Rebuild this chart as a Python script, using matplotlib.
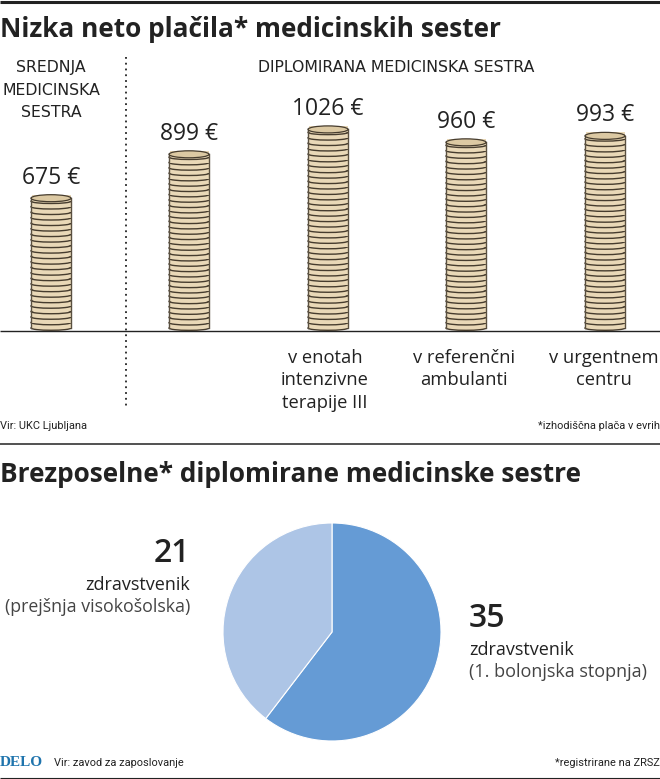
import matplotlib
matplotlib.use("Agg")
import matplotlib.pyplot as plt
from matplotlib.patches import Ellipse, Rectangle

BODY = ['Open Sans', 'DejaVu Sans']
NARROW = ['Roboto', 'DejaVu Sans']
plt.rcParams['font.family'] = BODY

W, H = 660, 779
INK = '#222222'
COIN = '#e9d8b7'
COIN_TOP = '#dcc9a3'
EDGE = '#463c2e'

salary_labels = ['675 €', '899 €', '1026 €', '960 €', '993 €']
salary_values = [675, 899, 1026, 960, 993]
category_lines = [['v enotah', 'intenzivne', 'terapije III'], ['v referenčni', 'ambulanti'], ['v urgentnem', 'centru']]
pie_counts = [35, 21]
# angular shares as drawn in the reference (the slices are not strictly proportional to the counts)
pie_shares = [60.4, 39.6]
pie_colors = ['#659bd5', '#adc5e6']

fig = plt.figure(figsize=(W / 100, H / 100), dpi=100, facecolor='white')

pg = fig.add_axes([0, 0, 1, 1])
pg.set_xlim(0, W)
pg.set_ylim(H, 0)
pg.axis('off')

PX_PER_EUR = 0.196
BASE_Y = 330.5
bar = fig.add_axes([0, 1 - BASE_Y / H, 1, (BASE_Y - 60) / H])
bar.set_xlim(0, W)
bar.set_ylim(0, (BASE_Y - 60) / PX_PER_EUR)
bar.axis('off')

centers = [51, 189, 328, 466, 605]
category_x = [325, 464, 604]
half = 20
coin_eur = 5.3 / PX_PER_EUR
coin_ell = 4.5 / PX_PER_EUR
top_ell = 7 / PX_PER_EUR

for cx, v in zip(centers, salary_values):
    n = int(v / coin_eur)
    step = v / n
    for i in range(n):
        y = i * step
        bar.add_patch(Ellipse((cx, y + 0.45 * step), 2 * half, coin_ell, fc=COIN, ec=EDGE, lw=1.0, zorder=3 + i))
        bar.add_patch(Rectangle((cx - half + 0.5, y + 0.45 * step), 2 * half - 1, step * 1.2, fc=COIN, ec='none', zorder=3 + i))
    bar.plot([cx - half, cx - half], [0.45 * step, v], color='#5a5040', lw=1.0, zorder=500)
    bar.plot([cx + half, cx + half], [0.45 * step, v], color='#5a5040', lw=1.0, zorder=500)
    bar.add_patch(Ellipse((cx, v), 2 * half, top_ell, fc=COIN_TOP, ec=EDGE, lw=0.9, zorder=501))

for cx, v, lab in zip(centers, salary_values, salary_labels):
    bar.text(cx, v + 14.5 / PX_PER_EUR, lab, ha='center', va='baseline', fontsize=16.5, color=INK, zorder=600)

pg.plot([0, W], [1.5, 1.5], color=INK, lw=2.2, solid_capstyle='butt')
pg.plot([0, W], [331, 331], color=INK, lw=1.0, solid_capstyle='butt', zorder=900)
pg.plot([0, W], [443.5, 443.5], color=INK, lw=1.1, solid_capstyle='butt')
pg.plot([0, W], [777.8, 777.8], color=INK, lw=0.8, solid_capstyle='butt')
pg.plot([126, 126], [57, 406], color=INK, lw=1.3, ls=(0, (1, 2.2)), zorder=900)

pg.text(0, 37, 'Nizka neto plačila* medicinskih sester', fontsize=18.9, fontweight='bold', color=INK, ha='left', va='baseline')
pg.text(0, 482, 'Brezposelne* diplomirane medicinske sestre', fontsize=18.9, fontweight='bold', color=INK, ha='left', va='baseline')

for y, s in zip([72, 94.5, 117], ['SREDNJA', 'MEDICINSKA', 'SESTRA']):
    pg.text(51, y, s, fontsize=11.3, color=INK, ha='center', va='baseline', family='DejaVu Sans')
pg.text(396, 72, 'DIPLOMIRANA MEDICINSKA SESTRA', fontsize=11.3, color=INK, ha='center', va='baseline', family='DejaVu Sans')

for cx, lines in zip(category_x, category_lines):
    for k, line in enumerate(lines):
        pg.text(cx, 362.5 + 22.7 * k, line, fontsize=13.2, color=INK, ha='center', va='baseline')

SRC = 7.9
pg.text(0, 429, 'Vir: UKC Ljubljana', fontsize=SRC, color=INK, ha='left', va='baseline', family=NARROW)
pg.text(660, 429, '*izhodiščna plača v evrih', fontsize=SRC, color=INK, ha='right', va='baseline', family=NARROW)
pg.text(0, 766, 'DELO', fontsize=11, fontweight='bold', family='Liberation Serif', color='#1f74ad', ha='left', va='baseline')
pg.text(54, 766, 'Vir: zavod za zaposlovanje', fontsize=SRC, color=INK, ha='left', va='baseline', family=NARROW)
pg.text(660, 766, '*registrirane na ZRSZ', fontsize=SRC, color=INK, ha='right', va='baseline', family=NARROW)

cx, cy, r = 332, 632, 109
pa = fig.add_axes([(cx - r) / W, 1 - (cy + r) / H, 2 * r / W, 2 * r / H])
pa.pie(pie_shares, colors=pie_colors, startangle=90, counterclock=False, radius=1,
       wedgeprops={'edgecolor': 'white', 'linewidth': 0.8})
pa.set_xlim(-1, 1)
pa.set_ylim(-1, 1)

pg.text(190, 562, str(pie_counts[1]), fontsize=23, fontweight='semibold', color=INK, ha='right', va='baseline')
pg.text(190, 590, 'zdravstvenik', fontsize=13, color=INK, ha='right', va='baseline')
pg.text(190, 612, '(prejšnja visokošolska)', fontsize=12.8, color='#444444', ha='right', va='baseline')
pg.text(469, 627, str(pie_counts[0]), fontsize=23, fontweight='semibold', color=INK, ha='left', va='baseline')
pg.text(469, 655, 'zdravstvenik', fontsize=13, color=INK, ha='left', va='baseline')
pg.text(469, 677, '(1. bolonjska stopnja)', fontsize=13, color='#444444', ha='left', va='baseline')

fig.savefig('out.png', dpi=100)
